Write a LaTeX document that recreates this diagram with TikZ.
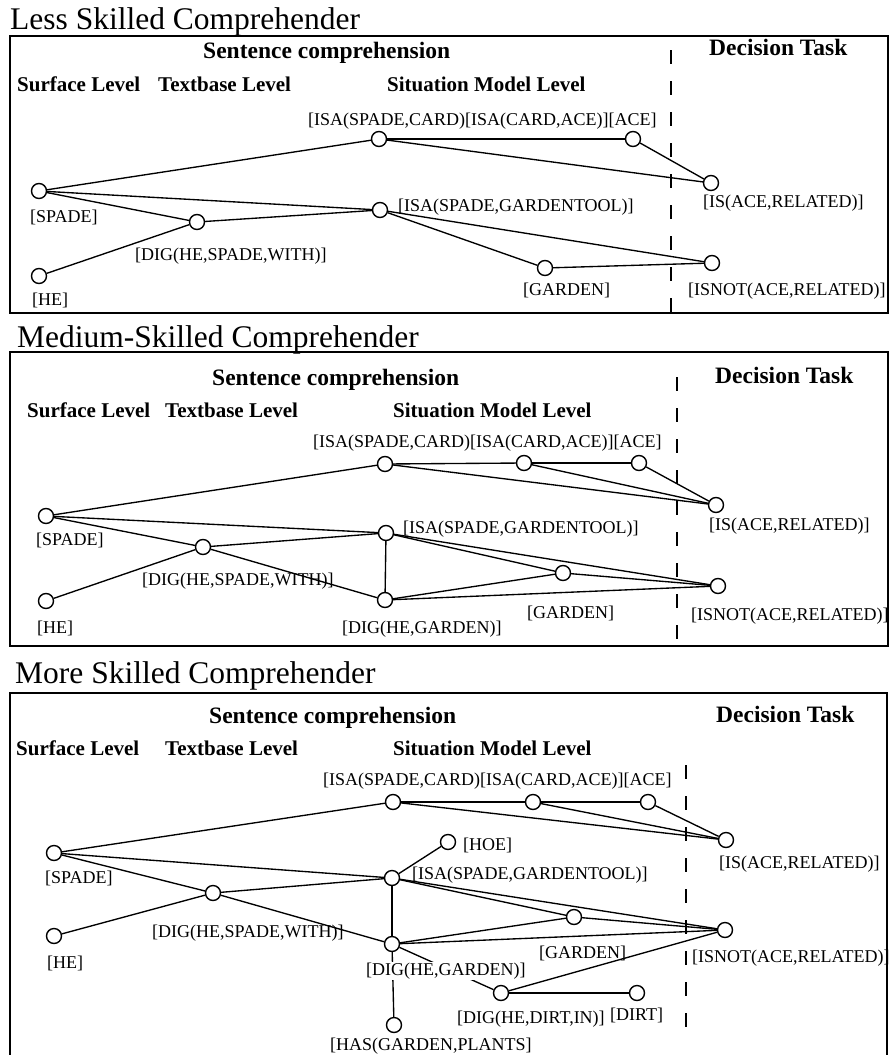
\documentclass[tikz,border=0pt]{standalone}
\usepackage{fontspec}
\setmainfont{Liberation Serif}
\begin{document}
\begin{tikzpicture}[x=1pt,y=-1pt,
  nd/.style={circle, draw, fill=white, minimum size=15pt, inner sep=0pt, line width=1.4pt},
  lbl/.style={anchor=base west, inner sep=0pt, font=\fontsize{18}{20}\selectfont},
  hd/.style={anchor=base west, inner sep=0pt, font=\bfseries\fontsize{23.5}{26}\selectfont},
  lvl/.style={anchor=base west, inner sep=0pt, font=\bfseries\fontsize{21}{24}\selectfont},
  ttl/.style={anchor=base west, inner sep=0pt, font=\fontsize{31.5}{34}\selectfont},
  link/.style={line width=1.35pt},
  frame/.style={line width=1.5pt},
  divider/.style={line width=1.4pt, dash pattern=on 14pt off 17pt}]
\useasboundingbox (0,0) rectangle (891,1055);
\fill[white] (0,0) rectangle (891,1055);

% ================= Panel 1 =================
\node[ttl] (t1) at (10,29) {Less Skilled Comprehender};
\draw[frame] (10,36) rectangle (888,313);
\coordinate (d1a) at (671,50); \coordinate (d1b) at (671,313);
\draw[divider] (d1a) -- (d1b);
\node[hd] (sc1) at (203,58) {Sentence comprehension};
\node[hd] (dt1) at (709,55) {Decision Task};
\node[lvl] (sl1) at (17,91) {Surface Level};
\node[lvl] (tl1) at (158,91) {Textbase Level};
\node[lvl] (sm1) at (387,91) {Situation Model Level};

\node[nd] (a1) at (379,139) {};
\node[nd] (ace1) at (633,139) {};
\node[nd] (is1) at (711,183) {};
\node[nd] (sp1) at (39,191) {};
\node[nd] (he1) at (39,276) {};
\node[nd] (dw1) at (197,222) {};
\node[nd] (gt1) at (380,210) {};
\node[nd] (gd1) at (545,268) {};
\node[nd] (isn1) at (712,263) {};

\draw[link] (sp1) -- (a1);
\draw[link] (sp1) -- (gt1);
\draw[link] (sp1) -- (dw1);
\draw[link] (he1) -- (dw1);
\draw[link] (dw1) -- (gt1);
\draw[link] (a1) -- (ace1);
\draw[link] (a1) -- (is1);
\draw[link] (ace1) -- (is1);
\draw[link] (gt1) -- (gd1);
\draw[link] (gt1) -- (isn1);
\draw[link] (gd1) -- (isn1);

\node[lbl] (la1) at (308,125) {[ISA(SPADE,CARD)[ISA(CARD,ACE)][ACE]};
\node[lbl] (lsp1) at (30,222) {[SPADE]};
\node[lbl] (lhe1) at (32,305) {[HE]};
\node[lbl] (ldw1) at (135,260) {[DIG(HE,SPADE,WITH)]};
\node[lbl] (lgt1) at (398,211) {[ISA(SPADE,GARDENTOOL)]};
\node[lbl] (lis1) at (703,207) {[IS(ACE,RELATED)]};
\node[lbl] (lgd1) at (523,295) {[GARDEN]};
\node[lbl] (lisn1) at (688,295) {[ISNOT(ACE,RELATED)]};

% ================= Panel 2 =================
\node[ttl] (t2) at (17,347) {Medium-Skilled Comprehender};
\draw[frame] (10,352) rectangle (888,646);
\coordinate (d2a) at (677,377); \coordinate (d2b) at (677,646);
\draw[divider] (d2a) -- (d2b);
\node[hd] (sc2) at (212,385) {Sentence comprehension};
\node[hd] (dt2) at (715,383) {Decision Task};
\node[lvl] (sl2) at (27,417) {Surface Level};
\node[lvl] (tl2) at (165,417) {Textbase Level};
\node[lvl] (sm2) at (393,417) {Situation Model Level};

\node[nd] (a2) at (385,464) {};
\node[nd] (ca2) at (524,463) {};
\node[nd] (ace2) at (639,463) {};
\node[nd] (is2) at (716,505) {};
\node[nd] (sp2) at (46,516) {};
\node[nd] (he2) at (46,601) {};
\node[nd] (dw2) at (203,547) {};
\node[nd] (gt2) at (386,533) {};
\node[nd] (dg2) at (385,600) {};
\node[nd] (gd2) at (563,573) {};
\node[nd] (isn2) at (718,586) {};

\draw[link] (sp2) -- (a2);
\draw[link] (sp2) -- (gt2);
\draw[link] (sp2) -- (dw2);
\draw[link] (he2) -- (dw2);
\draw[link] (dw2) -- (gt2);
\draw[link] (dw2) -- (dg2);
\draw[link] (gt2) -- (dg2);
\draw[link] (a2) -- (ca2);
\draw[link] (ca2) -- (ace2);
\draw[link] (a2) -- (is2);
\draw[link] (ca2) -- (is2);
\draw[link] (ace2) -- (is2);
\draw[link] (gt2) -- (gd2);
\draw[link] (gt2) -- (isn2);
\draw[link] (gd2) -- (isn2);
\draw[link] (dg2) -- (gd2);
\draw[link] (dg2) -- (isn2);

\node[lbl] (la2) at (313,447) {[ISA(SPADE,CARD)[ISA(CARD,ACE)][ACE]};
\node[lbl] (lsp2) at (36,545) {[SPADE]};
\node[lbl] (lhe2) at (37,633) {[HE]};
\node[lbl] (ldw2) at (142,585) {[DIG(HE,SPADE,WITH)]};
\node[lbl] (lgt2) at (403,533) {[ISA(SPADE,GARDENTOOL)]};
\node[lbl] (lis2) at (709,530) {[IS(ACE,RELATED)]};
\node[lbl] (ldg2) at (342,633) {[DIG(HE,GARDEN)]};
\node[lbl] (lgd2) at (527,618) {[GARDEN]};
\node[lbl] (lisn2) at (691,620) {[ISNOT(ACE,RELATED)]};

% ================= Panel 3 =================
\node[ttl] (t3) at (15,683) {More Skilled Comprehender};
\draw[frame] (10,1055) -- (10,693) -- (887,693) -- (887,1055);
\coordinate (d3a) at (686,765); \coordinate (d3b) at (686,1032);
\draw[divider] (d3a) -- (d3b);
\node[hd] (sc3) at (209,723) {Sentence comprehension};
\node[hd] (dt3) at (716,722) {Decision Task};
\node[lvl] (sl3) at (16,755) {Surface Level};
\node[lvl] (tl3) at (165,755) {Textbase Level};
\node[lvl] (sm3) at (393,755) {Situation Model Level};

\node[nd] (a3) at (393,802) {};
\node[nd] (ca3) at (533,802) {};
\node[nd] (ace3) at (648,802) {};
\node[nd] (is3) at (726,840) {};
\node[nd] (hoe3) at (448,842) {};
\node[nd] (sp3) at (54,853) {};
\node[nd] (he3) at (54,936) {};
\node[nd] (dw3) at (213,893) {};
\node[nd] (gt3) at (392,878) {};
\node[nd] (dg3) at (392,944) {};
\node[nd] (gd3) at (574,917) {};
\node[nd] (isn3) at (725,930) {};
\node[nd] (di3) at (501,993) {};
\node[nd] (dirt3) at (637,993) {};
\node[nd] (hp3) at (394,1025) {};

\draw[link] (sp3) -- (a3);
\draw[link] (sp3) -- (gt3);
\draw[link] (sp3) -- (dw3);
\draw[link] (he3) -- (dw3);
\draw[link] (dw3) -- (gt3);
\draw[link] (dw3) -- (dg3);
\draw[link] (gt3) -- (dg3);
\draw[link] (gt3) -- (hoe3);
\draw[link] (a3) -- (ca3);
\draw[link] (ca3) -- (ace3);
\draw[link] (a3) -- (is3);
\draw[link] (ca3) -- (is3);
\draw[link] (ace3) -- (is3);
\draw[link] (gt3) -- (gd3);
\draw[link] (gt3) -- (isn3);
\draw[link] (gd3) -- (isn3);
\draw[link] (dg3) -- (gd3);
\draw[link] (dg3) -- (isn3);
\draw[link] (dg3) -- (di3);
\draw[link] (di3) -- (dirt3);
\draw[link] (di3) -- (isn3);
\draw[link] (dg3) -- (hp3);

\node[lbl] (la3) at (323,785) {[ISA(SPADE,CARD)[ISA(CARD,ACE)][ACE]};
\node[lbl] (lhoe3) at (463,850) {[HOE]};
\node[lbl] (lsp3) at (45,883) {[SPADE]};
\node[lbl] (lhe3) at (47,968) {[HE]};
\node[lbl] (ldw3) at (152,937) {[DIG(HE,SPADE,WITH)]};
\node[lbl] (lgt3) at (412,879) {[ISA(SPADE,GARDENTOOL)]};
\node[lbl] (lis3) at (719,868) {[IS(ACE,RELATED)]};
\node[lbl, fill=white, inner sep=1pt] (ldg3) at (365,975) {[DIG(HE,GARDEN)]};
\node[lbl] (lgd3) at (539,958) {[GARDEN]};
\node[lbl] (lisn3) at (692,962) {[ISNOT(ACE,RELATED)]};
\node[lbl] (ldi3) at (457,1023) {[DIG(HE,DIRT,IN)]};
\node[lbl] (ldirt3) at (610,1020) {[DIRT]};
\node[lbl] (lhp3) at (330,1050) {[HAS(GARDEN,PLANTS]};
\end{tikzpicture}
\end{document}
